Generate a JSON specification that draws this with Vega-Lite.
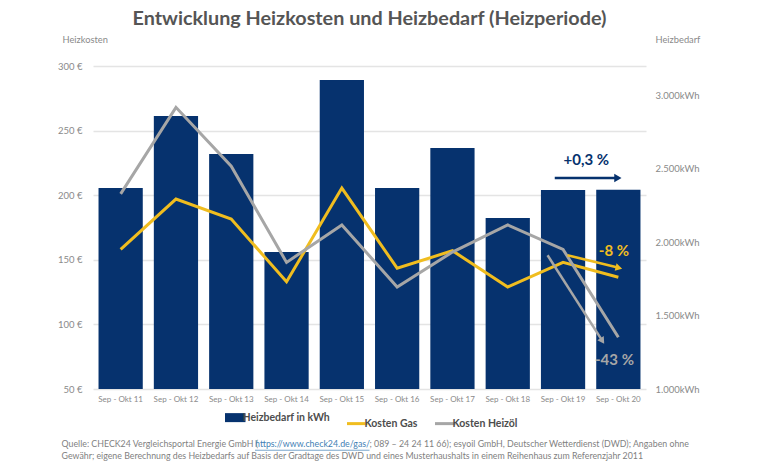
{
"$schema":"https://vega.github.io/schema/vega-lite/v6.json",
"autosize":{"type":"none"},
"padding":{"left":93,"top":66,"right":134,"bottom":81},
"width":553,"height":323,
"background":"white",
"title":{"text":"Entwicklung Heizkosten und Heizbedarf (Heizperiode)","font":"Lato","fontSize":19.8,"fontWeight":"bold","color":"#555555","anchor":"middle","offset":6},
"config":{"view":{"stroke":null},"font":"Lato"},
"datasets":{
"main":[
{"periode":"Sep - Okt 11","bedarf":2369,"gas":158,"oel":201},
{"periode":"Sep - Okt 12","bedarf":2860,"gas":197,"oel":268},
{"periode":"Sep - Okt 13","bedarf":2600,"gas":181.5,"oel":222.5},
{"periode":"Sep - Okt 14","bedarf":1933,"gas":133,"oel":148},
{"periode":"Sep - Okt 15","bedarf":3105,"gas":205.5,"oel":177},
{"periode":"Sep - Okt 16","bedarf":2369,"gas":143.5,"oel":129},
{"periode":"Sep - Okt 17","bedarf":2642,"gas":157,"oel":156},
{"periode":"Sep - Okt 18","bedarf":2165,"gas":129,"oel":177},
{"periode":"Sep - Okt 19","bedarf":2355,"gas":148,"oel":158},
{"periode":"Sep - Okt 20","bedarf":2357,"gas":136.5,"oel":90}
],
"pfeile":[
{"reihe":"Heizbedarf in kWh","x":8.35,"y":213.3,"x2":9.47,"y2":213.3,"tx":8.92,"ty":227,"label":"+0,3 %"},
{"reihe":"Kosten Gas","x":8.58,"y":153.5,"x2":9.49,"y2":144,"tx":9.42,"ty":156.5,"label":"-8 %"},
{"reihe":"Kosten Heizöl","x":8.22,"y":153.5,"x2":9.2,"y2":88,"tx":9.43,"ty":72.5,"label":"-43 %"}
],
"fuss":[
{"x":-0.568,"y":7.2,"t":"Quelle: CHECK24 Vergleichsportal Energie GmbH ("},
{"x":5.0,"y":7.2,"t":"; 089 – 24 24 11 66); esyoil GmbH, Deutscher Wetterdienst (DWD); Angaben ohne"},
{"x":-0.568,"y":-2.1,"t":"Gewähr; eigene Berechnung des Heizbedarfs auf Basis der Gradtage des DWD und eines Musterhaushalts in einem Reihenhaus zum Referenzjahr 2011"}
],
"link":[{"x":2.93,"x2":5.0,"y":7.2,"yu":2.6,"t":"https://www.check24.de/gas/"}]
},
"layer":[
{"data":{"name":"main"},
 "mark":{"type":"bar"},
 "encoding":{
  "x":{"field":"periode","type":"nominal","scale":{"type":"band","paddingInner":0.2,"paddingOuter":0.1},
   "axis":{"orient":"bottom","title":null,"labelAngle":0,"labelColor":"#8a8a8a","labelFontSize":8,"labelPadding":6,"ticks":false,"domain":false}},
  "y":{"field":"bedarf","type":"quantitative","scale":{"domain":[1000,3200],"nice":false,"zero":false},
   "axis":{"orient":"right","values":[1000,1500,2000,2500,3000],"grid":false,"ticks":false,"domain":false,"labelPadding":9,"labelColor":"#8a8a8a","labelFontSize":9.5,
    "labelExpr":"replace(format(datum.value,','),',','.')+'kWh'",
    "title":"Heizbedarf","titleAngle":0,"titleFontWeight":"normal","titleFontSize":9.3,"titleColor":"#8a8a8a","titleAlign":"left","titleBaseline":"middle","titleX":9,"titleY":-27}},
  "y2":{"datum":1000},
  "color":{"datum":"Heizbedarf in kWh","type":"nominal","scale":{"domain":["Heizbedarf in kWh","Kosten Gas","Kosten Heizöl"],"range":["#06326e","#f0bd1f","#a6a6a6"]},
   "legend":{"title":null,"orient":"none","legendX":137,"legendY":346,"direction":"horizontal","symbolType":"stroke","symbolSize":420,"symbolStrokeWidth":9,"labelFont":"Lato","labelFontSize":10.5,"labelFontWeight":"bold","labelColor":"#4d4d4d","labelOffset":2,"columnPadding":11,"labelLimit":200,
    "encode":{"symbols":{"update":{"strokeWidth":{"signal":"datum.value==='Heizbedarf in kWh'?9:3"}}}}}}
 }},
{"data":{"name":"main"},
 "mark":{"type":"line","strokeWidth":3,"strokeJoin":"miter"},
  "encoding":{
   "x":{"field":"periode","type":"nominal","scale":{"type":"point","padding":0.5},"axis":null},
   "y":{"field":"gas","type":"quantitative","scale":{"domain":[50,300],"nice":false,"zero":false},
    "axis":{"orient":"left","values":[50,100,150,200,250,300],"grid":true,"gridColor":"#e4e4e4","gridWidth":1.5,"ticks":false,"domain":false,"labelPadding":11,"labelColor":"#8a8a8a","labelFontSize":9.5,
     "labelExpr":"datum.value+' €'",
     "title":"Heizkosten","titleAngle":0,"titleFontWeight":"normal","titleFontSize":9.3,"titleColor":"#8a8a8a","titleAlign":"left","titleBaseline":"middle","titleX":-31,"titleY":-27}},
   "color":{"datum":"Kosten Gas","type":"nominal"}}},
{"data":{"name":"main"},
 "mark":{"type":"line","strokeWidth":3,"strokeJoin":"miter"},
  "encoding":{
   "x":{"field":"periode","type":"nominal","scale":{"type":"point","padding":0.5},"axis":null},
   "y":{"field":"oel","type":"quantitative","scale":{"domain":[50,300],"nice":false,"zero":false},"axis":null},
   "color":{"datum":"Kosten Heizöl","type":"nominal"}}},
{"data":{"name":"pfeile"},
 "mark":{"type":"rule","strokeWidth":2.5},
 "encoding":{
  "x":{"field":"x","type":"quantitative","scale":{"domain":[0,10],"nice":false},"axis":null},"x2":{"field":"x2"},
  "y":{"field":"y","type":"quantitative","scale":{"domain":[50,300],"nice":false,"zero":false},"axis":null},"y2":{"field":"y2"},
  "color":{"field":"reihe","type":"nominal","title":null}}},
{"data":{"name":"pfeile"},
 "mark":{"type":"text","fontSize":15,"fontWeight":"bold","font":"Lato"},
 "encoding":{
  "x":{"field":"tx","type":"quantitative","scale":{"domain":[0,10],"nice":false},"axis":null},
  "y":{"field":"ty","type":"quantitative","scale":{"domain":[50,300],"nice":false,"zero":false},"axis":null},
  "text":{"field":"label"},
  "color":{"field":"reihe","type":"nominal","title":null}}},
{"data":{"name":"pfeile"},"transform":[{"filter":"datum.reihe==='Heizbedarf in kWh'"}],
 "mark":{"type":"point","shape":"triangle","angle":90,"filled":true,"size":70,"opacity":1},
 "encoding":{
  "x":{"field":"x2","type":"quantitative","scale":{"domain":[0,10],"nice":false},"axis":null},
  "y":{"field":"y2","type":"quantitative","scale":{"domain":[50,300],"nice":false,"zero":false},"axis":null},
  "color":{"field":"reihe","type":"nominal","title":null}}},
{"data":{"name":"pfeile"},"transform":[{"filter":"datum.reihe==='Kosten Gas'"}],
 "mark":{"type":"point","shape":"triangle","angle":104,"filled":true,"size":60,"opacity":1},
 "encoding":{
  "x":{"field":"x2","type":"quantitative","scale":{"domain":[0,10],"nice":false},"axis":null},
  "y":{"field":"y2","type":"quantitative","scale":{"domain":[50,300],"nice":false,"zero":false},"axis":null},
  "color":{"field":"reihe","type":"nominal","title":null}}},
{"data":{"name":"pfeile"},"transform":[{"filter":"datum.reihe==='Kosten Heizöl'"}],
 "mark":{"type":"point","shape":"triangle","angle":147,"filled":true,"size":60,"opacity":1},
 "encoding":{
  "x":{"field":"x2","type":"quantitative","scale":{"domain":[0,10],"nice":false},"axis":null},
  "y":{"field":"y2","type":"quantitative","scale":{"domain":[50,300],"nice":false,"zero":false},"axis":null},
  "color":{"field":"reihe","type":"nominal","title":null}}},
{"data":{"name":"fuss"},
 "mark":{"type":"text","align":"left","baseline":"middle","color":"#7f7f7f","fontSize":8.8,"font":"Lato","limit":700},
 "encoding":{
  "x":{"field":"x","type":"quantitative","scale":{"domain":[0,10],"nice":false},"axis":null},
  "y":{"field":"y","type":"quantitative","scale":{"domain":[50,300],"nice":false,"zero":false},"axis":null},
  "text":{"field":"t"}}},
{"data":{"name":"link"},
 "mark":{"type":"text","align":"left","baseline":"middle","color":"#3f7fb5","fontSize":8.8,"font":"Lato","limit":700},
 "encoding":{
  "x":{"field":"x","type":"quantitative","scale":{"domain":[0,10],"nice":false},"axis":null},
  "y":{"field":"y","type":"quantitative","scale":{"domain":[50,300],"nice":false,"zero":false},"axis":null},
  "text":{"field":"t"}}},
{"data":{"name":"link"},
 "mark":{"type":"rule","color":"#3f7fb5","strokeWidth":0.7},
 "encoding":{
  "x":{"field":"x","type":"quantitative","scale":{"domain":[0,10],"nice":false},"axis":null},"x2":{"field":"x2"},
  "y":{"field":"yu","type":"quantitative","scale":{"domain":[50,300],"nice":false,"zero":false},"axis":null}}}
],
"resolve":{"scale":{"x":"independent","y":"independent"},"axis":{"x":"independent","y":"independent"}}
}
